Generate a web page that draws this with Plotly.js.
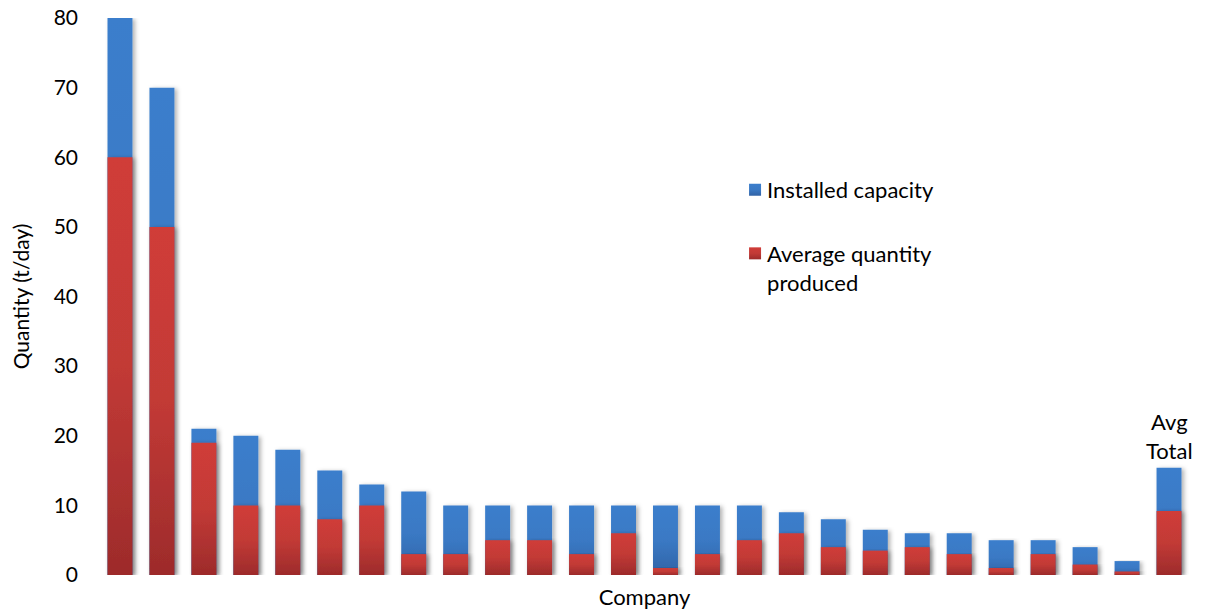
<!DOCTYPE html>
<html>
<head>
<meta charset="utf-8">
<script src="https://cdn.plot.ly/plotly-3.0.1.min.js"></script>
<style>
  html, body { margin: 0; padding: 0; background: #fff; }
  #chart { width: 1205px; height: 612px; }
</style>
</head>
<body>
<div id="chart"></div>
<svg width="0" height="0" style="position:absolute">
  <defs>
    <linearGradient id="gradBlue" x1="0" y1="0" x2="0" y2="1">
      <stop offset="0" stop-color="#3b7ecc"/>
      <stop offset="0.5" stop-color="#3a79c4"/>
      <stop offset="1" stop-color="#3163a6"/>
    </linearGradient>
    <linearGradient id="gradRed" x1="0" y1="0" x2="0" y2="1">
      <stop offset="0" stop-color="#d03c38"/>
      <stop offset="0.5" stop-color="#c23a36"/>
      <stop offset="1" stop-color="#9d2b2b"/>
    </linearGradient>
    <filter id="barShadow" x="-30%" y="-5%" width="160%" height="110%">
      <feDropShadow dx="2.5" dy="1" stdDeviation="2.2" flood-color="#000" flood-opacity="0.3"/>
    </filter>
  </defs>
</svg>
<script>
// Companies ranked by installed capacity, plus the average over all of them
const companies = [
  "C1","C2","C3","C4","C5","C6","C7","C8","C9","C10","C11","C12","C13",
  "C14","C15","C16","C17","C18","C19","C20","C21","C22","C23","C24","C25","Avg Total"
];
// Installed capacity (t/day)
const installedCapacity = [
  80, 70, 21, 20, 18, 15, 13, 12, 10, 10, 10, 10, 10,
  10, 10, 10, 9, 8, 6.5, 6, 6, 5, 5, 4, 2, 15.4
];
// Average quantity produced (t/day)
const averageProduced = [
  60, 50, 19, 10, 10, 8, 10, 3, 3, 5, 5, 3, 6,
  1, 3, 5, 6, 4, 3.5, 4, 3, 1, 3, 1.5, 0.5, 9.2
];
const yTicks = [0, 10, 20, 30, 40, 50, 60, 70, 80];

const FONT = "Lato, 'Open Sans', sans-serif";

const traces = [
  {
    type: "bar",
    name: "Installed capacity",
    x: companies,
    y: installedCapacity,
    width: 0.595,
    marker: { color: "#3a7bc8", line: { width: 0 } },
    legendgroup: "a",
    hoverinfo: "x+y"
  },
  {
    type: "bar",
    name: "Average quantity<br>produced",
    x: companies,
    y: averageProduced,
    width: 0.595,
    marker: { color: "#c93a36", line: { width: 0 } },
    legendgroup: "b",
    hoverinfo: "x+y"
  }
];

const last = companies.length - 1;

const layout = {
  width: 1205,
  height: 612,
  margin: { l: 98.5, r: 14.5, t: 18, b: 37 },
  paper_bgcolor: "#ffffff",
  plot_bgcolor: "#ffffff",
  barmode: "overlay",
  font: { family: FONT, color: "#000", size: 21 },
  showlegend: true,
  legend: {
    x: 0.583, y: 0.729, xanchor: "left", yanchor: "top",
    bgcolor: "rgba(0,0,0,0)",
    font: { family: FONT, size: 22, color: "#000" },
    traceorder: "grouped",
    tracegroupgap: 32,
    itemwidth: 30,
    valign: "top"
  },
  xaxis: {
    type: "category",
    range: [-0.5, companies.length - 0.5],
    showticklabels: false,
    showgrid: false,
    zeroline: false,
    showline: false,
    ticks: "",
    title: { text: "Company", font: { family: FONT, size: 22 }, standoff: 14 },
    automargin: false
  },
  yaxis: {
    range: [0, 80],
    tickvals: yTicks,
    ticktext: yTicks.map(String),
    showgrid: false,
    zeroline: false,
    showline: false,
    ticks: "",
    ticklabelstandoff: 20,
    tickfont: { family: FONT, size: 21 },
    title: { text: "Quantity (t/day)", font: { family: FONT, size: 21 }, standoff: 18 },
    automargin: false
  },
  annotations: [
    {
      x: companies[last], y: installedCapacity[last],
      xref: "x", yref: "y",
      text: "Avg<br>Total",
      showarrow: false,
      yanchor: "bottom",
      yshift: 2,
      font: { family: FONT, size: 22, color: "#000" }
    }
  ]
};

Plotly.newPlot("chart", traces, layout, { displayModeBar: false, staticPlot: true }).then(function (gd) {
  // Vertical shading and soft shadow on each bar, legend swatches included
  const fills = ["url(#gradBlue)", "url(#gradRed)"];
  gd.querySelectorAll(".barlayer .trace").forEach(function (tr, i) {
    tr.querySelectorAll("path").forEach(function (p) {
      p.style.fill = fills[i];
      p.style.filter = "url(#barShadow)";
    });
  });
  gd.querySelectorAll(".legend .traces").forEach(function (tr, i) {
    tr.querySelectorAll(".legendpoints path").forEach(function (p) {
      p.style.fill = fills[i];
    });
    // pull the label closer to its swatch
    tr.querySelectorAll("text.legendtext, text.legendtext tspan").forEach(function (t) {
      const x = parseFloat(t.getAttribute("x"));
      if (!isNaN(x)) t.setAttribute("x", x - 8);
    });
  });
});
</script>
</body>
</html>
